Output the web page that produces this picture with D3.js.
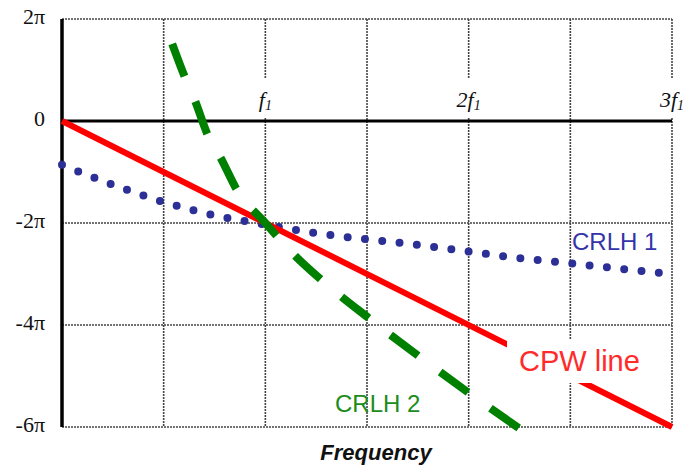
<!DOCTYPE html>
<html>
<head>
<meta charset="utf-8">
<script src="https://cdn.jsdelivr.net/npm/d3@7/dist/d3.min.js"></script>
<style>
  html, body { margin: 0; padding: 0; background: #fff; }
  svg { display: block; }
  .serif { font-family: 'Liberation Serif', 'Times New Roman', serif; }
</style>
</head>
<body>
<svg id="chart" width="684" height="473"></svg>
<script>
// Phase (in units of π) versus frequency (in units of f1)
const yTickValues = [2, 0, -2, -4, -6];
const yTickLabels = ["2π", "0", "-2π", "-4π", "-6π"];
const xTickValues = [1, 2, 3];
const xTickPrefix = ["", "2", "3"];
const xGridValues = [0.5, 1, 1.5, 2, 2.5, 3];
const yGridValues = [2, -2, -4, -6];

// CPW line: straight, proportional to frequency
const cpwFreq = [0, 3];
const cpwPhase = [0, -6];

// CRLH 1 (dotted)
const crlh1Freq = [0, 0.25, 0.5, 0.75, 1, 1.25, 1.5, 1.75, 2, 2.25, 2.5, 2.75, 3];
const crlh1Phase = [-0.86, -1.25, -1.59, -1.85, -2.03, -2.2, -2.32, -2.43, -2.56, -2.69, -2.79, -2.9, -3.0];

// CRLH 2 (dashed)
const crlh2Freq = [0.542, 0.606, 0.655, 0.714, 0.788, 0.857, 1.0, 1.148, 1.271, 1.507, 1.754, 2.0, 2.246];
const crlh2Phase = [1.51, 0.84, 0.39, -0.25, -0.78, -1.33, -2.0, -2.65, -3.1, -3.86, -4.61, -5.33, -6.02];

const svg = d3.select("#chart");
const x = d3.scaleLinear().domain([0, 3]).range([62, 672]);
const y = d3.scaleLinear().domain([-6, 2]).range([427, 19]);

const gridStyle = g => g.attr("stroke", "#444").attr("stroke-width", 1.6)
  .attr("stroke-dasharray", "2,1").attr("fill", "none");

// grid
const grid = svg.append("g");
grid.selectAll("line.v").data(xGridValues).join("line")
  .attr("class", "v")
  .attr("x1", d => x(d)).attr("x2", d => x(d))
  .attr("y1", y(2)).attr("y2", y(-6))
  .call(gridStyle);
grid.selectAll("line.h").data(yGridValues).join("line")
  .attr("class", "h")
  .attr("x1", x(0)).attr("x2", x(3))
  .attr("y1", d => y(d)).attr("y2", d => y(d))
  .call(gridStyle);

// top frequency labels with white backing
const topLabels = svg.append("g");
const tl = topLabels.selectAll("g").data(xTickValues).join("g");
tl.append("rect").attr("fill", "#fff");
const tt = tl.append("text")
  .attr("class", "serif")
  .attr("x", d => x(d)).attr("y", 107)
  .attr("text-anchor", "middle")
  .style("font-style", "italic")
  .style("font-size", "22px")
  .attr("fill", "#111");
tt.append("tspan").text((d, i) => xTickPrefix[i] + "f");
tt.append("tspan").style("font-size", "14px").attr("dy", 3).text("1");
tl.each(function() {
  const g = d3.select(this);
  const b = g.select("text").node().getBBox();
  g.select("rect").attr("x", b.x - 3).attr("width", b.width + 6)
    .attr("y", 78).attr("height", 39);
});

// y axis labels
const yAxis = d3.axisLeft(y).tickValues(yTickValues)
  .tickFormat((d, i) => yTickLabels[i]).tickSize(0).tickPadding(17);
const ya = svg.append("g").attr("transform", `translate(${x(0)},0)`).call(yAxis);
ya.attr("font-family", null).attr("font-size", null);
ya.select(".domain").remove();
ya.selectAll("text")
  .attr("class", "serif")
  .style("font-size", "22px")
  .attr("fill", "#111")
  .attr("dy", "0.2em");

// axes lines
svg.append("line").attr("x1", x(0)).attr("x2", x(3)).attr("y1", y(0)).attr("y2", y(0))
  .attr("stroke", "#000").attr("stroke-width", 3);
svg.append("line").attr("x1", x(0)).attr("x2", x(0)).attr("y1", y(2)).attr("y2", y(-6))
  .attr("stroke", "#000").attr("stroke-width", 3.5);

const line = d3.line().x(d => x(d[0])).y(d => y(d[1]));

// CRLH 1 dotted curve
svg.append("path")
  .datum(d3.zip(crlh1Freq, crlh1Phase))
  .attr("d", line.curve(d3.curveMonotoneX))
  .attr("fill", "none").attr("stroke", "#2c2f96")
  .attr("stroke-width", 8).attr("stroke-linecap", "round")
  .attr("stroke-dasharray", "0,17.4");

// CPW straight line
svg.append("path")
  .datum(d3.zip(cpwFreq, cpwPhase))
  .attr("d", line.curve(d3.curveLinear))
  .attr("fill", "none").attr("stroke", "#ff0000").attr("stroke-width", 6);

// CRLH 2 dashed curve: nine dashes, starting and ending on a dash
const c2 = svg.append("path")
  .datum(d3.zip(crlh2Freq, crlh2Phase))
  .attr("d", line.curve(d3.curveMonotoneX))
  .attr("fill", "none").attr("stroke", "#008000")
  .attr("stroke-width", 8);
const c2len = c2.node().getTotalLength();
const unit = c2len / (9 * 34 + 8 * 27);
c2.attr("stroke-dasharray", `${34 * unit},${27 * unit}`);

// series labels
const sans = "'Liberation Sans', Arial, sans-serif";
svg.append("rect").attr("x", 507).attr("y", 339).attr("width", 140).attr("height", 44).attr("fill", "#fff");
svg.append("text").attr("x", 519).attr("y", 371).text("CPW line")
  .attr("font-family", sans).attr("font-size", 29).attr("fill", "#ff2a2a");
svg.append("text").attr("x", 572).attr("y", 250).text("CRLH 1")
  .attr("font-family", sans).attr("font-size", 24).attr("fill", "#3434a8");
svg.append("text").attr("x", 335).attr("y", 412).text("CRLH 2")
  .attr("font-family", sans).attr("font-size", 24).attr("fill", "#1c8c1c");

// x axis title
svg.append("text").attr("x", 376).attr("y", 460).attr("text-anchor", "middle")
  .text("Frequency")
  .attr("font-family", sans).attr("font-size", 22).attr("font-style", "italic")
  .attr("font-weight", "bold").attr("fill", "#111");
</script>
</body>
</html>
